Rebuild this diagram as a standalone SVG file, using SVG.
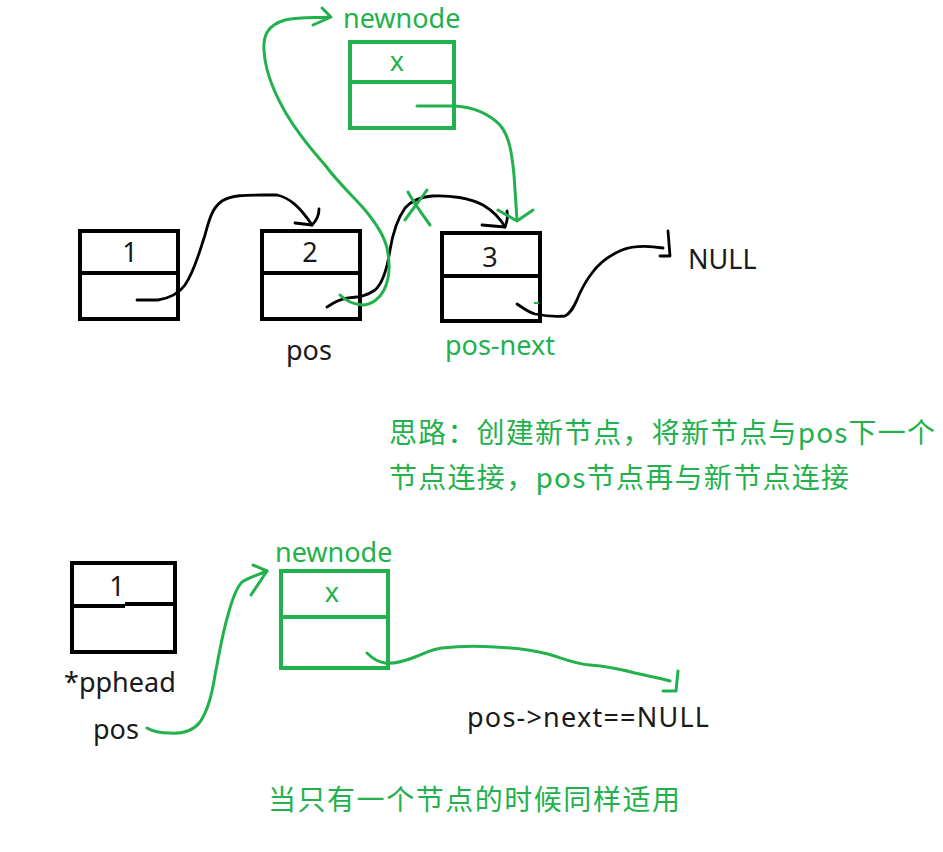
<svg xmlns="http://www.w3.org/2000/svg" width="943" height="852" viewBox="0 0 943 852">
<style>
.bk{fill:none;stroke:#000;stroke-width:4}
.gb{fill:none;stroke:#22b14c;stroke-width:4}
.cb{fill:none;stroke:#000;stroke-width:2.8;stroke-linecap:round;stroke-linejoin:round}
.cg{fill:none;stroke:#22b14c;stroke-width:3;stroke-linecap:round;stroke-linejoin:round}
.t{font-family:"Noto Sans","Noto Sans CJK SC",sans-serif;font-size:27px;fill:#1a1a1a}
.tg{font-family:"Noto Sans","Noto Sans CJK SC",sans-serif;font-size:27px;fill:#22b14c}
.cn{font-family:"Noto Sans CJK SC","Noto Sans",sans-serif;font-size:28px;fill:#22b14c}
</style>
<rect width="943" height="852" fill="#fff"/>
<g id="node1">
<rect class="bk" x="80" y="231" width="98" height="88"/>
<line class="bk" x1="80" y1="273" x2="178" y2="273"/>
<text class="t" x="130" y="262" text-anchor="middle">1</text>
</g>
<g id="node2">
<rect class="bk" x="262" y="231" width="98" height="88"/>
<line class="bk" x1="262" y1="273" x2="360" y2="273"/>
<text class="t" x="310" y="262" text-anchor="middle">2</text>
<text class="t" x="286" y="360">pos</text>
</g>
<g id="node3">
<rect class="bk" x="442" y="233" width="98" height="88"/>
<line class="bk" x1="442" y1="276" x2="540" y2="276"/>
<text class="t" x="490" y="267" text-anchor="middle">3</text>
<text class="tg" x="445" y="355">pos-next</text>
</g>
<g id="null-top">
<text class="t" x="688" y="269">NULL</text>
</g>
<g id="newnode-top">
<text class="tg" x="343" y="28">newnode</text>
<rect class="gb" x="350" y="42" width="104" height="86"/>
<line class="gb" x1="350" y1="82" x2="454" y2="82"/>
<text class="tg" x="397" y="71" text-anchor="middle">x</text>
</g>
<g id="note1">
<text class="cn" x="389" y="443" textLength="546" lengthAdjust="spacing">思路：创建新节点，将新节点与pos下一个</text>
<text class="cn" x="389" y="488" textLength="460" lengthAdjust="spacing">节点连接，pos节点再与新节点连接</text>
</g>
<g id="phead-node">
<rect class="bk" x="72" y="563" width="103" height="89"/>
<line class="bk" x1="72" y1="606" x2="125" y2="606"/>
<line class="bk" x1="125" y1="604" x2="175" y2="604"/>
<text class="t" x="117" y="596" text-anchor="middle">1</text>
<text class="t" x="64" y="692">*pphead</text>
<text class="t" x="93" y="739">pos</text>
</g>
<g id="newnode-bottom">
<text class="tg" x="275" y="562">newnode</text>
<rect class="gb" x="281" y="571" width="107" height="97"/>
<line class="gb" x1="281" y1="617" x2="388" y2="617"/>
<text class="tg" x="332" y="602" text-anchor="middle">x</text>
</g>
<g id="null-bottom">
<text class="t" x="467" y="727" textLength="242" lengthAdjust="spacing">pos-&gt;next==NULL</text>
</g>
<g id="note2">
<text class="cn" x="268" y="810" textLength="412" lengthAdjust="spacing">当只有一个节点的时候同样适用</text>
</g>
<g id="connectors">
<path class="cb" d="M137,300 L158,300 C170,298 180,292 185,285 C195,270 200,250 205,235 C209,220 212,208 222,201 C232,195 245,195 262,195 L277,195 C290,198 300,207 312,225"/>
<path class="cb" d="M295,223 L312,225 C317,220 319,215 319,209"/>
<path class="cb" d="M327,307 C335,302 340,299 348,298 C358,297 365,297 375,290 C383,283 387,270 390,250 C393,232 398,218 405,208 C412,200 420,197 432,196 C450,195 470,198 483,205 C493,211 500,218 505,227"/>
<path class="cb" d="M482,225 L505,227 C507,222 508,216 507,211"/>
<path class="cb" d="M517,304 C523,308 528,312 535,314 C545,316 555,317 565,316 C570,314 573,308 576,302 C580,292 585,282 592,273 C600,262 610,255 622,250 C635,245 650,246 663,248"/>
<path class="cb" d="M660,256 L670,256 L668,231"/>
<line x1="534" y1="303" x2="539" y2="303" stroke="#22b14c" stroke-width="2"/>
<path class="cg" d="M340,295 C345,300 352,304 362,305 C372,305 380,298 384,290 C390,278 390,262 387,248 C384,235 375,222 365,210 C355,198 340,185 325,165 C310,148 295,130 283,108 C272,88 265,70 264,50 C263,35 268,25 285,20 C300,17 318,18 330,17"/>
<path class="cg" d="M322,8 L331,17 L313,25"/>
<path class="cg" d="M417,106 L455,106 C472,107 488,113 500,125 C510,137 512,155 514,175 C515,190 516,205 517,220"/>
<path class="cg" d="M498,210 L517,221 L533,210"/>
<path class="cg" d="M408,192 C414,203 422,214 430,225"/>
<path class="cg" d="M427,190 C420,200 412,210 405,220"/>
<path class="cg" d="M147,728 C152,731 157,733 170,733 C183,734 193,731 200,722 C207,712 212,695 215,675 C219,655 222,635 228,615 C232,600 236,588 242,582 C248,578 255,576 267,571"/>
<path class="cg" d="M253,565 L267,571 L251,595"/>
<path class="cg" d="M367,653 C372,658 377,662 385,663 C395,664 405,661 415,657 C425,653 432,649 442,648 C460,646 478,646 495,647 C515,648 532,650 548,654 C562,658 575,664 590,665 C605,666 620,669 635,673 C648,676 660,678 670,681"/>
<path class="cg" d="M663,691 L676,691 L678,671"/>
</g>
</svg>
